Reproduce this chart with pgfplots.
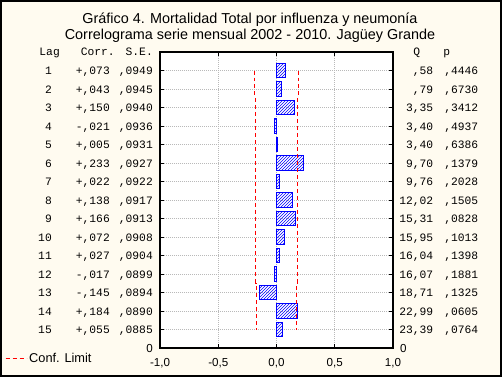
\documentclass[border=0pt]{standalone}
\usepackage{pgfplots}
\pgfplotsset{compat=1.18}
\usepackage{pgfplotstable}
\usetikzlibrary{patterns}
\usepackage{fontspec}
\setmainfont{Liberation Sans}
\newfontfamily\mono{Liberation Mono}
\definecolor{cream}{RGB}{255,251,240}
\definecolor{gridgray}{RGB}{185,185,185}
\newcommand{\lrow}[3]{\makebox[52pt][r]{#1}\makebox[58pt][r]{#2}\makebox[43pt][r]{#3}\hspace*{7pt}}
\newcommand{\rrow}[2]{\makebox[40pt][r]{#1}\makebox[45pt][r]{#2}}

\pgfplotstableread{
lag corr
1 0.073
2 0.043
3 0.150
4 -0.021
5 0.005
6 0.233
7 0.022
8 0.138
9 0.166
10 0.072
11 0.027
12 -0.017
13 -0.145
14 0.184
15 0.055
}\corrdata

\pgfplotstableread{
lim lag
0.1860 1
0.1860 1.5
0.1852 1.5
0.1852 2.5
0.1842 2.5
0.1842 3.5
0.1835 3.5
0.1835 4.5
0.1825 4.5
0.1825 5.5
0.1817 5.5
0.1817 6.5
0.1807 6.5
0.1807 7.5
0.1797 7.5
0.1797 8.5
0.1789 8.5
0.1789 9.5
0.1780 9.5
0.1780 10.5
0.1772 10.5
0.1772 11.5
0.1762 11.5
0.1762 12.5
0.1752 12.5
0.1752 13.5
0.1744 13.5
0.1744 14.5
0.1735 14.5
0.1735 15
}\limdata

\begin{document}
\begin{tikzpicture}
\useasboundingbox (-160pt,-29pt) rectangle (342pt,348pt);
\fill[cream] (-160pt,-29pt) rectangle (342pt,348pt);
\draw[black, line width=1.2pt] (-159pt,-28pt) rectangle (341pt,347pt);
\node[anchor=base, font=\fontsize{14.4}{17}\selectfont] at (90pt,324pt) {Gráfico 4. Mortalidad Total por influenza y neumonía};
\node[anchor=base, font=\fontsize{14.4}{17}\selectfont] at (90pt,308pt) {Correlograma serie mensual 2002 - 2010. Jagüey Grande};

\begin{axis}[
  at={(0pt,0pt)}, anchor=south west,
  width=233pt, height=296pt, scale only axis,
  xmin=-1, xmax=1, ymin=0, ymax=16, y dir=reverse,
  axis background/.style={fill=white},
  axis line style={line width=1.4pt},
  xtick={-1,-0.5,0,0.5,1},
  xticklabels={{-1,0},{-0,5},{0,0},{0,5},{1,0}},
  ytick={0,...,16},
  yticklabels={
    {\makebox[60pt][r]{Lag}\makebox[55pt][r]{Corr.}\makebox[38pt][r]{S.E.}\hspace*{7pt}},
    {\lrow{1}{+,073}{,0949}},
    {\lrow{2}{+,043}{,0945}},
    {\lrow{3}{+,150}{,0940}},
    {\lrow{4}{-,021}{,0936}},
    {\lrow{5}{+,005}{,0931}},
    {\lrow{6}{+,233}{,0927}},
    {\lrow{7}{+,022}{,0922}},
    {\lrow{8}{+,138}{,0917}},
    {\lrow{9}{+,166}{,0913}},
    {\lrow{10}{+,072}{,0908}},
    {\lrow{11}{+,027}{,0904}},
    {\lrow{12}{-,017}{,0899}},
    {\lrow{13}{-,145}{,0894}},
    {\lrow{14}{+,184}{,0890}},
    {\lrow{15}{+,055}{,0885}},
    {\normalfont\fontsize{11.6}{13}\selectfont\makebox[153pt][r]{0}\hspace*{7pt}}
  },
  tick align=inside,
  major tick length=4pt,
  tick style={black, line width=0.8pt},
  grid=major,
  major grid style={gridgray, line width=0.8pt, dash pattern=on 1pt off 1pt},
  xticklabel style={anchor=base, yshift=-18pt, inner sep=0pt, font=\fontsize{11.6}{13}\selectfont},
  yticklabel style={anchor=base east, yshift=-4pt, inner sep=0pt, font=\mono\fontsize{11.3}{13}\selectfont},
  legend style={at={(rel axis cs:0,0)}, anchor=west, xshift=-155pt, yshift=-10.5pt,
    draw=none, fill=none, inner sep=0pt, font=\fontsize{12.8}{14}\selectfont},
  legend image code/.code={\draw[#1] (0pt,0pt) -- (21pt,0pt);},
]
\addplot[xbar, bar width=0.8, draw=blue, line width=0.9pt, pattern=north east lines, pattern color=blue, forget plot]
  table[x=corr, y=lag] {\corrdata};
\addplot[red, line width=1pt, dash pattern=on 4pt off 3pt] table[x=lim, y=lag] {\limdata};
\addlegendentry{Conf. Limit}
\addplot[red, line width=1pt, dash pattern=on 4pt off 3pt, forget plot] table[x expr=-\thisrow{lim}, y=lag] {\limdata};
\end{axis}

\begin{axis}[
  at={(0pt,0pt)}, anchor=south west,
  width=233pt, height=296pt, scale only axis,
  xmin=-1, xmax=1, ymin=0, ymax=16, y dir=reverse,
  axis x line=none, axis y line*=right,
  y axis line style={draw=none},
  ytick={0,...,16},
  ytick style={draw=none},
  yticklabels={
    {\makebox[27pt][r]{Q}\makebox[30pt][r]{p}},
    {\rrow{,58}{,4446}},
    {\rrow{,79}{,6730}},
    {\rrow{3,35}{,3412}},
    {\rrow{3,40}{,4937}},
    {\rrow{3,40}{,6386}},
    {\rrow{9,70}{,1379}},
    {\rrow{9,76}{,2028}},
    {\rrow{12,02}{,1505}},
    {\rrow{15,31}{,0828}},
    {\rrow{15,95}{,1013}},
    {\rrow{16,04}{,1398}},
    {\rrow{16,07}{,1881}},
    {\rrow{18,71}{,1325}},
    {\rrow{22,99}{,0605}},
    {\rrow{23,39}{,0764}},
    {\normalfont\fontsize{11.6}{13}\selectfont\hspace*{7pt}0}
  },
  yticklabel style={anchor=base west, yshift=-4pt, inner sep=0pt, font=\mono\fontsize{11.3}{13}\selectfont},
]
\addplot[draw=none, forget plot] coordinates {(0,1)};
\end{axis}
\end{tikzpicture}
\end{document}
